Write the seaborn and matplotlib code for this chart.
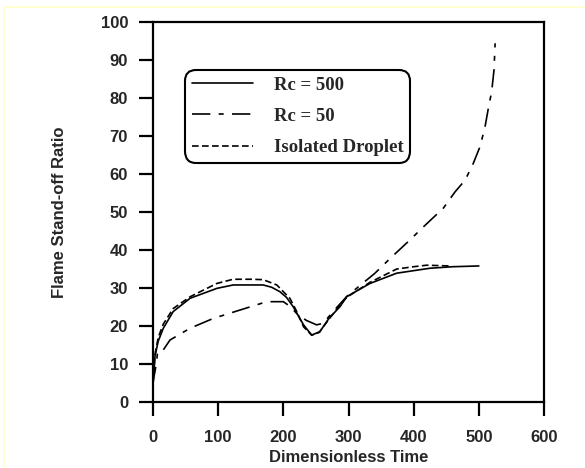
import matplotlib
matplotlib.use("Agg")
import matplotlib.pyplot as plt
from matplotlib.lines import Line2D
import seaborn as sns

# ---- data ----
x_rc500 = [0, 3, 8, 15.8, 31, 57, 98, 123, 150, 169, 182, 195, 205, 215, 231, 243.5, 256, 270, 287, 297, 333, 374, 425, 460, 500]
y_rc500 = [4.5, 12, 16, 19.4, 23.8, 27.3, 29.9, 30.8, 30.8, 30.8, 30.2, 29, 27.5, 25.1, 20.3, 17.6, 18.5, 22, 25.1, 27.7, 31.2, 33.9, 35.2, 35.6, 35.8]

x_rc50 = [-1, 3, 5.6, 7, 15.8, 26, 56.8, 92.6, 133.5, 174.5, 200, 210, 220.5, 235, 251, 261, 270, 280, 297, 320, 340, 364, 394, 415, 445.5, 463.5, 479, 491.5, 501.8, 509.5, 514.6, 519.7, 523.3, 525]
y_rc50 = [4.5, 8, 10.6, 13.3, 13.7, 16.3, 19.4, 22, 24.2, 26.4, 26.4, 25.2, 23.3, 21.5, 20.3, 20.7, 22.5, 24.5, 27.7, 31, 33.8, 37.8, 42.6, 46.1, 51, 55.3, 58.4, 62.8, 67.2, 72.4, 77.3, 81.7, 87.4, 94.4]

x_iso = [0, 3, 8, 15.8, 31, 57, 98, 123, 150, 169, 190, 210, 220, 231, 243.5, 255, 270, 287, 297, 333, 374, 400, 420, 456]
y_iso = [4.5, 12.5, 17, 20.5, 24.6, 27.7, 31.2, 32.3, 32.3, 32.2, 30.8, 27.3, 24, 19.8, 17.6, 18.3, 21.8, 25.5, 27.5, 31.5, 35, 35.6, 36, 35.8]

labels = ["Rc = 500", "Rc = 50", "Isolated Droplet"]
x_ticks = [0, 100, 200, 300, 400, 500, 600]
y_ticks = [0, 10, 20, 30, 40, 50, 60, 70, 80, 90, 100]

sns.set_theme(style="white")
plt.rcParams["font.family"] = ["Liberation Sans", "DejaVu Sans"]

fig = plt.figure(figsize=(5.85, 4.68), dpi=100)
ax = fig.add_axes([153/585, 1 - 402/468, (544 - 153)/585, (402 - 22)/468])

lw = 1.2
sns.lineplot(x=x_rc500, y=y_rc500, ax=ax, color="black", lw=lw, sort=False,
             estimator=None, label=labels[0], linestyle="-")
sns.lineplot(x=x_rc50, y=y_rc50, ax=ax, color="black", lw=lw, sort=False,
             estimator=None, label=labels[1], linestyle=(0, (11, 5, 3, 5)))
sns.lineplot(x=x_iso, y=y_iso, ax=ax, color="black", lw=lw, sort=False,
             estimator=None, label=labels[2], linestyle=(0, (4, 2)))

ax.set_xlim(0, 600)
ax.set_ylim(0, 100)
ax.set_xticks(x_ticks)
ax.set_yticks(y_ticks)
ax.set_xticklabels([str(v) for v in x_ticks], fontsize=12, fontweight="bold")
ax.set_yticklabels([str(v) for v in y_ticks], fontsize=12, fontweight="bold")
ax.tick_params(axis="both", direction="out", length=10, width=1.6, color="black",
               bottom=True, left=True, top=False, right=False)
ax.tick_params(axis="x", pad=10)
ax.tick_params(axis="y", pad=8)
for s in ax.spines.values():
    s.set_visible(True)
    s.set_color("black")
    s.set_linewidth(1.6)

ax.set_xlabel("Dimensionless Time", fontsize=12, fontweight="bold", labelpad=4)
ax.set_ylabel("Flame Stand-off Ratio", fontsize=12, fontweight="bold", labelpad=24)

leg = ax.legend(loc="upper left", bbox_to_anchor=(185/585, 1 - 70/468),
                bbox_transform=fig.transFigure, borderaxespad=0,
                prop={"family": "Liberation Serif", "weight": "bold", "size": 13.5},
                handlelength=3.3, handletextpad=1.1, labelspacing=0.75,
                borderpad=0.35, frameon=True, fancybox=True)
fr = leg.get_frame()
fr.set_edgecolor("black")
fr.set_linewidth(1.5)
fr.set_facecolor("white")
fr.set_alpha(1)
leg.legendPatch.set_boxstyle("round", pad=0, rounding_size=0.6)

# pale yellow page frame
fig.add_artist(Line2D([4/585, 4/585], [0, 1 - 7/468], transform=fig.transFigure,
                      color="#ffffc8", lw=1.2))
fig.add_artist(Line2D([4/585, 1], [1 - 7/468, 1 - 7/468], transform=fig.transFigure,
                      color="#ffffc8", lw=1.2))

fig.savefig("out.png", dpi=100)
